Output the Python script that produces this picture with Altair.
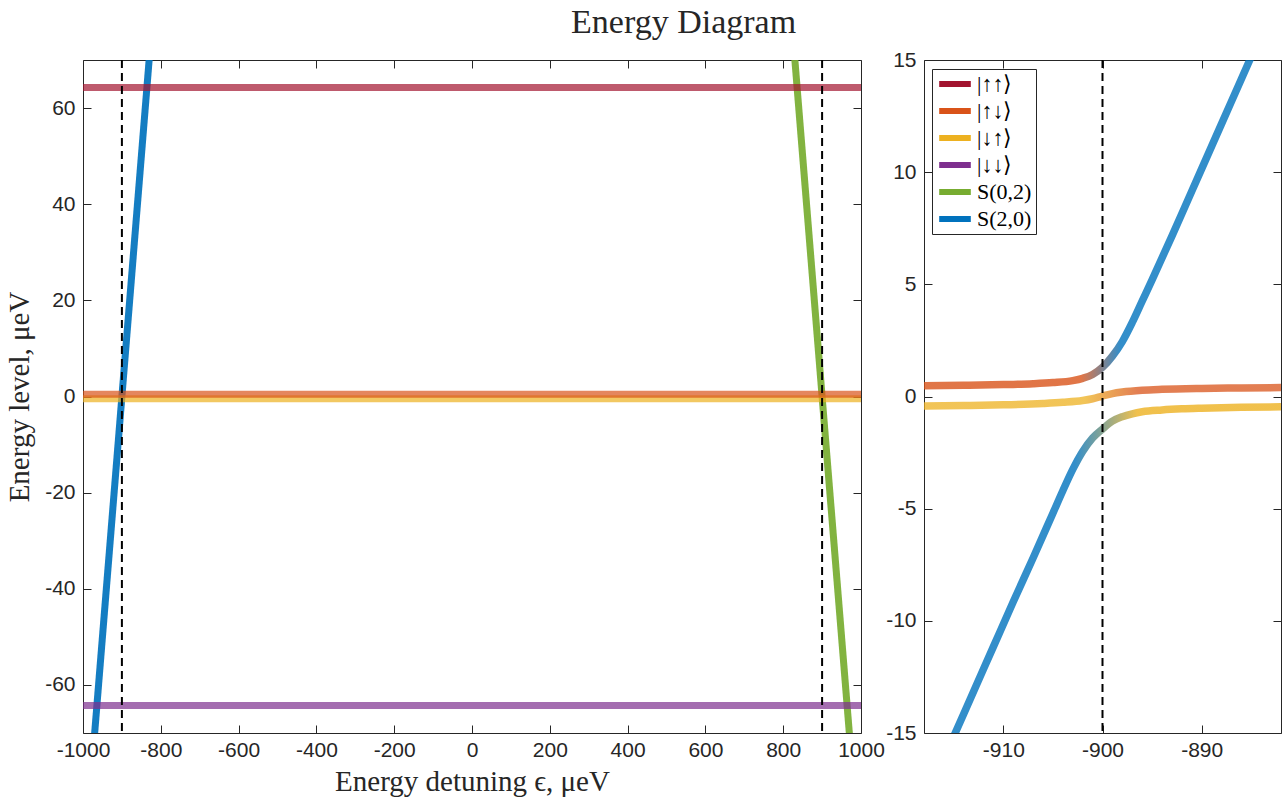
import altair as alt
import pandas as pd

# ---------------- data ----------------
states = ["|↑↑⟩", "|↑↓⟩", "|↓↑⟩", "|↓↓⟩", "S(0,2)", "S(2,0)"]
state_colors = ["#A2142F", "#D95319", "#EDB120", "#7E2F8E", "#77AC30", "#0072BD"]

# left panel: flat spin levels (μeV), drawn in this order
flat_states = ["|↓↓⟩", "|↓↑⟩", "|↑↓⟩", "|↑↑⟩"]
flat_energy = [-64.3, -0.45, 0.45, 64.3]

# charge states (straight lines)
s20_eps = [-975, -825]
s20_energy = [-75, 75]
s02_eps = [825, 975]
s02_energy = [75, -75]

marker_eps_left = [-900, 900]
marker_eps_right = [-900]

# right panel: anticrossing branches near eps = -900 μeV
upper_eps = [-918, -914, -910, -907, -905, -903, -902, -901, -900, -899, -898,
             -897, -896, -895, -893, -891, -889, -887, -885]
upper_energy = [0.48, 0.50, 0.53, 0.57, 0.62, 0.71, 0.81, 0.98, 1.30, 1.80, 2.45,
                3.30, 4.25, 5.20, 7.15, 9.15, 11.15, 13.15, 15.15]
middle_eps = [-918, -914, -910, -906, -904, -902, -901, -900, -899, -898, -896,
              -894, -890, -886, -882]
middle_energy = [-0.42, -0.40, -0.37, -0.31, -0.26, -0.18, -0.10, 0.02, 0.13, 0.20,
                 0.28, 0.32, 0.36, 0.38, 0.40]
lower_eps = [-915, -913, -911, -909, -907, -905, -904, -903, -902, -901, -900,
             -899, -898, -897, -896, -894, -892, -890, -886, -882]
lower_energy = [-15.15, -13.15, -11.15, -9.15, -7.2, -5.2, -4.2, -3.25, -2.45, -1.85,
                -1.45, -1.1, -0.9, -0.77, -0.68, -0.6, -0.55, -0.52, -0.48, -0.46]

left_xticks = [-1000, -800, -600, -400, -200, 0, 200, 400, 600, 800, 1000]
left_yticks = [-60, -40, -20, 0, 20, 40, 60]
right_xticks = [-910, -900, -890]
right_yticks = [-15, -10, -5, 0, 5, 10, 15]

left_xdomain = [-1000, 1000]
left_ydomain = [-70, 70]
right_xdomain = [-918, -882]
right_ydomain = [-15, 15]

# ---------------- tables ----------------
charge_df = pd.DataFrame({
    "eps": s20_eps + s02_eps,
    "energy": s20_energy + s02_energy,
    "state": ["S(2,0)"] * len(s20_eps) + ["S(0,2)"] * len(s02_eps),
})
flat_df = pd.DataFrame({"energy": flat_energy, "state": flat_states})
carrier_df = pd.concat([
    pd.DataFrame({"eps": [left_xdomain[0]] * len(flat_states) + [left_xdomain[1]] * len(flat_states),
                  "energy": flat_energy + flat_energy,
                  "state": flat_states + flat_states}),
    charge_df,
], ignore_index=True)
upper_df = pd.DataFrame({"eps": upper_eps, "energy": upper_energy})
middle_df = pd.DataFrame({"eps": middle_eps, "energy": middle_energy})
lower_df = pd.DataFrame({"eps": lower_eps, "energy": lower_energy})

# ---------------- styling ----------------
AX = "#262626"
SERIF = "Liberation Serif"
SANS = "Liberation Sans"
TICK = 8

common = dict(domain=False, grid=False, tickColor=AX, tickWidth=1, tickSize=TICK,
              offset=-TICK, labelFont=SANS, labelFontSize=21, labelColor=AX,
              labelFlush=False, labelOverlap=False,
              titleFont=SERIF, titleFontSize=29, titleColor=AX, titleFontWeight="normal")


def bottom_axis(values, title=None):
    return alt.Axis(orient="bottom", values=values, labelExpr="toString(datum.value)",
                    labelPadding=6, titlePadding=7, title=title, **common)


def left_axis(values, title=None):
    return alt.Axis(orient="left", values=values, labelExpr="toString(datum.value)",
                    labelPadding=8, titlePadding=10, title=title, **common)


def top_axis(values):
    return alt.Axis(orient="top", values=values, labels=False, title=None, **common)


def right_axis(values):
    return alt.Axis(orient="right", values=values, labels=False, title=None, **common)


color_scale = alt.Scale(domain=states, range=state_colors)

# ---------------- left panel ----------------
LX = alt.Scale(domain=left_xdomain, nice=False, zero=False)
LY = alt.Scale(domain=left_ydomain, nice=False, zero=False)

charge_lines = alt.Chart(charge_df).mark_line(strokeWidth=7, opacity=0.92, clip=True).encode(
    x=alt.X("eps:Q", scale=LX, axis=bottom_axis(left_xticks, "Energy detuning ϵ, μeV")),
    y=alt.Y("energy:Q", scale=LY, axis=left_axis(left_yticks, "Energy level, μeV")),
    color=alt.Color("state:N", scale=color_scale, legend=None),
)
flat_lines = alt.Chart(flat_df).mark_rule(strokeWidth=7, opacity=0.7).encode(
    y=alt.Y("energy:Q", scale=LY, axis=right_axis(left_yticks)),
    color=alt.Color("state:N", scale=color_scale, legend=None),
)
dashed_left = alt.Chart(pd.DataFrame({"eps": marker_eps_left})).mark_rule(
    strokeDash=[8, 5], strokeWidth=2, color="black").encode(
    x=alt.X("eps:Q", scale=LX, axis=top_axis(left_xticks)),
)
left = alt.layer(charge_lines, flat_lines, dashed_left).resolve_axis(
    x="independent", y="independent").properties(width=778, height=673)

# ---------------- right panel ----------------
RX = alt.Scale(domain=right_xdomain, nice=False, zero=False)
RY = alt.Scale(domain=right_ydomain, nice=False, zero=False)


def grad(c1, c2, a, b):
    return alt.LinearGradient(gradient="linear", x1=0, x2=1, y1=0, y2=0, stops=[
        alt.GradientStop(color=c1, offset=0), alt.GradientStop(color=c1, offset=a),
        alt.GradientStop(color=c2, offset=b), alt.GradientStop(color=c2, offset=1)])


ORANGE, YELLOW, BLUE = "#D95319", "#EDB120", "#0072BD"

upper = alt.Chart(upper_df).mark_line(
    stroke=grad(ORANGE, BLUE, 0.48, 0.60), strokeWidth=7.5, opacity=0.8, clip=True,
    interpolate="monotone").encode(
    x=alt.X("eps:Q", scale=RX, axis=bottom_axis(right_xticks)),
    y=alt.Y("energy:Q", scale=RY, axis=left_axis(right_yticks)),
)
middle = alt.Chart(middle_df).mark_line(
    stroke=grad(YELLOW, ORANGE, 0.45, 0.60), strokeWidth=7.5, opacity=0.75, clip=True,
    interpolate="monotone").encode(
    x=alt.X("eps:Q", scale=RX, axis=None),
    y=alt.Y("energy:Q", scale=RY, axis=None),
)
lower = alt.Chart(lower_df).mark_line(
    stroke=grad(BLUE, YELLOW, 0.37, 0.56), strokeWidth=7.5, opacity=0.8, clip=True,
    interpolate="monotone").encode(
    x=alt.X("eps:Q", scale=RX, axis=None),
    y=alt.Y("energy:Q", scale=RY, axis=None),
)
dashed_right = alt.Chart(pd.DataFrame({"eps": marker_eps_right})).mark_rule(
    strokeDash=[8, 5], strokeWidth=2, color="black").encode(
    x=alt.X("eps:Q", scale=RX, axis=top_axis(right_xticks)),
)
carrier = alt.Chart(carrier_df).mark_line(opacity=0, clip=True).encode(
    x=alt.X("eps:Q", scale=RX, axis=None),
    y=alt.Y("energy:Q", scale=RY, axis=right_axis(right_yticks)),
    color=alt.Color("state:N", scale=color_scale, legend=alt.Legend(
        orient="none", legendX=8, legendY=9, title=None, symbolType="stroke",
        symbolStrokeWidth=6, symbolSize=1000, symbolOpacity=1, labelFont=SERIF,
        labelFontSize=22, labelColor="black", strokeColor=AX, fillColor="white",
        padding=4, rowPadding=5, clipHeight=22, labelOffset=3)),
)
right = alt.layer(upper, middle, lower, dashed_right, carrier).resolve_axis(
    x="independent", y="independent").properties(width=357, height=673)

chart = alt.hconcat(left, right, spacing=63, bounds="flush").resolve_scale(color="independent").properties(
    title=alt.TitleParams("Energy Diagram", font=SERIF, fontSize=34, fontWeight="normal",
                          color=AX, anchor="middle", offset=9, dx=40),
    padding={"left": 5, "top": 5, "right": 5, "bottom": 5},
    background="white",
).configure_view(stroke=AX, strokeWidth=1)

chart.save("out.html", embed_options={"renderer": "svg", "actions": False})
